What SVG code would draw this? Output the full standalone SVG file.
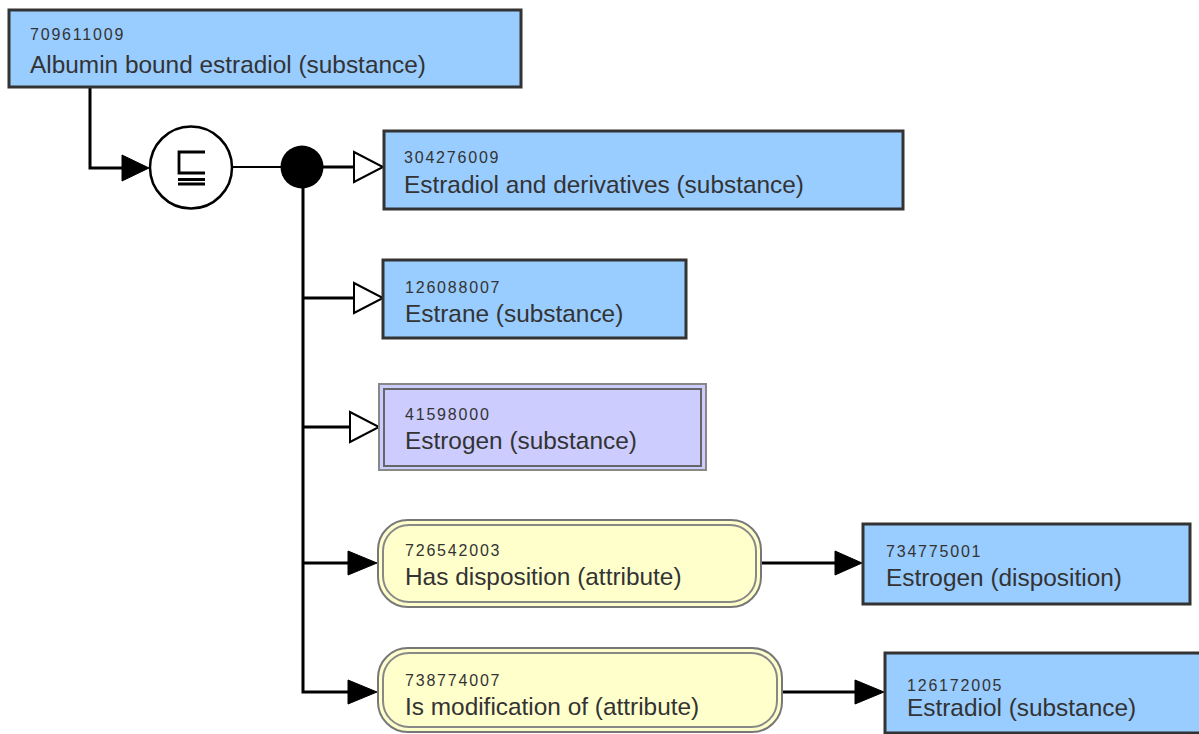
<svg xmlns="http://www.w3.org/2000/svg" width="1199" height="734" viewBox="0 0 1199 734">
<style>
.box{fill:#99ccff;stroke:#333;stroke-width:3}
.prim-o{fill:#ccccff;stroke:#888;stroke-width:2}
.prim-i{fill:none;stroke:#666;stroke-width:2}
.attr-o{fill:#ffffcc;stroke:#777;stroke-width:2}
.attr-i{fill:none;stroke:#888;stroke-width:2}
.id{font-family:"Liberation Sans",Arial,sans-serif;font-size:16px;letter-spacing:1.8px;fill:#333}
.lbl{font-family:"Liberation Sans",Arial,sans-serif;font-size:24.4px;fill:#333}
.ln{fill:none;stroke:#000;stroke-width:3}
.thin{fill:none;stroke:#000;stroke-width:2}
.hollow{fill:#fff;stroke:#000;stroke-width:2}
.solid{fill:#000;stroke:#000;stroke-width:1}
</style>
<rect width="1199" height="734" fill="#fff"/>
<g id="connectors">
  <path class="ln" d="M90 87 V168 H124"/>
  <polygon class="solid" points="122,155 149,168 122,181"/>
  <line class="thin" x1="233" y1="167" x2="282" y2="167"/>
  <line class="ln" x1="322" y1="167" x2="354" y2="167"/>
  <polygon class="hollow" points="354,152 383,167 354,182"/>
  <path class="ln" d="M303 167 V692 H350"/>
  <line class="ln" x1="303" y1="298" x2="354" y2="298"/>
  <polygon class="hollow" points="354,283 383,298 354,313"/>
  <line class="ln" x1="303" y1="427" x2="350" y2="427"/>
  <polygon class="hollow" points="350,412 379,427 350,442"/>
  <line class="ln" x1="303" y1="563" x2="350" y2="563"/>
  <polygon class="solid" points="348,551 377,563 348,575"/>
  <polygon class="solid" points="348,680 377,692 348,704"/>
  <line class="ln" x1="761" y1="563" x2="837" y2="563"/>
  <polygon class="solid" points="835,551 862,563 835,575"/>
  <line class="ln" x1="782" y1="692" x2="857" y2="692"/>
  <polygon class="solid" points="855,680 884,692 855,704"/>
</g>
<g id="defstatus">
  <circle cx="191" cy="167.5" r="41" fill="#fff" stroke="#000" stroke-width="2.5"/>
  <path d="M205 152 H179 V173 H205 M178 179.5 H205 M178 184 H205" fill="none" stroke="#000" stroke-width="2.8"/>
</g>
<g id="conj">
  <circle cx="302" cy="167" r="21.5" fill="#000"/>
</g>
<g id="n709611009">
  <rect class="box" x="9" y="10" width="512" height="77"/>
  <text class="id" x="30" y="40">709611009</text>
  <text class="lbl" x="30" y="73">Albumin bound estradiol (substance)</text>
</g>
<g id="n304276009">
  <rect class="box" x="384" y="131" width="519" height="78"/>
  <text class="id" x="404" y="163">304276009</text>
  <text class="lbl" x="404" y="193">Estradiol and derivatives (substance)</text>
</g>
<g id="n126088007">
  <rect class="box" x="383" y="260" width="303" height="78"/>
  <text class="id" x="405" y="293">126088007</text>
  <text class="lbl" x="405" y="322">Estrane (substance)</text>
</g>
<g id="n41598000">
  <rect class="prim-o" x="379" y="384" width="327" height="86"/>
  <rect class="prim-i" x="384" y="389" width="317" height="77"/>
  <text class="id" x="405" y="420">41598000</text>
  <text class="lbl" x="405" y="449">Estrogen (substance)</text>
</g>
<g id="n726542003">
  <rect class="attr-o" x="378" y="520" width="383" height="87" rx="30" ry="30"/>
  <rect class="attr-i" x="383" y="525" width="373" height="77" rx="26" ry="26"/>
  <text class="id" x="405" y="556">726542003</text>
  <text class="lbl" x="405" y="585">Has disposition (attribute)</text>
</g>
<g id="n734775001">
  <rect class="box" x="863" y="524" width="327" height="80"/>
  <text class="id" x="886" y="557">734775001</text>
  <text class="lbl" x="886" y="586">Estrogen (disposition)</text>
</g>
<g id="n738774007">
  <rect class="attr-o" x="378" y="648" width="404" height="84" rx="30" ry="30"/>
  <rect class="attr-i" x="383" y="653" width="394" height="74" rx="26" ry="26"/>
  <text class="id" x="405" y="686">738774007</text>
  <text class="lbl" x="405" y="715">Is modification of (attribute)</text>
</g>
<g id="n126172005">
  <rect class="box" x="885" y="653" width="330" height="80"/>
  <text class="id" x="907" y="691">126172005</text>
  <text class="lbl" x="907" y="716">Estradiol (substance)</text>
</g>
</svg>
